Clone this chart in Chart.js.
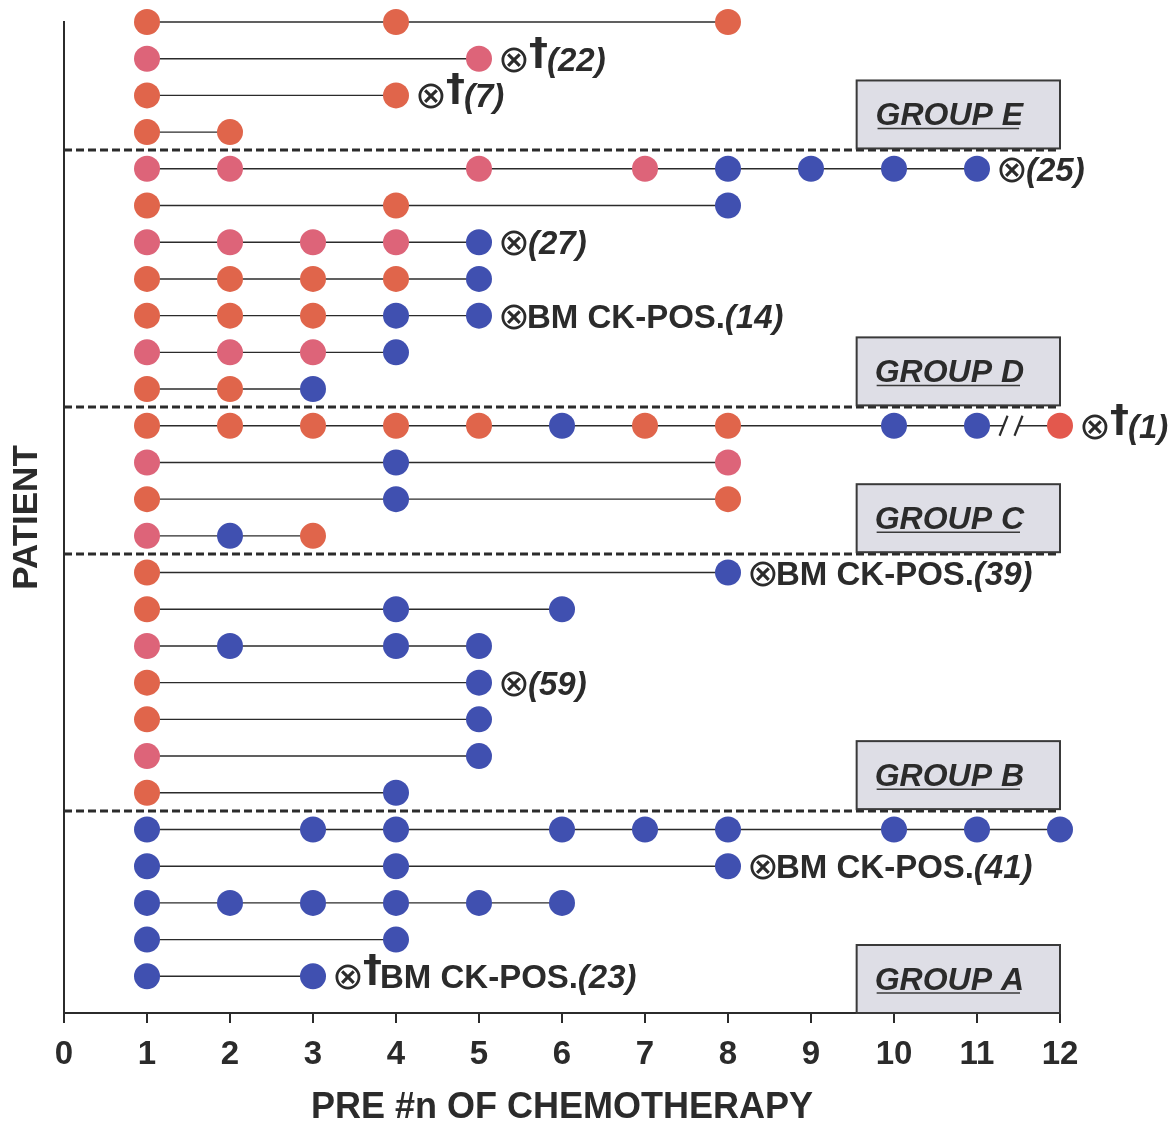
<!DOCTYPE html>
<html>
<head>
<meta charset="utf-8">
<script src="https://cdn.jsdelivr.net/npm/chart.js@4.4.1/dist/chart.umd.min.js"></script>
<style>
  html, body { margin: 0; padding: 0; background: #fff; }
</style>
</head>
<body>
<canvas id="chart" width="1171" height="1124"></canvas>
<script>
// patient rows, top (27) to bottom (1)
const patients = [27, 26, 25, 24, 23, 22, 21, 20, 19, 18, 17, 16, 15, 14, 13, 12, 11, 10, 9, 8, 7, 6, 5, 4, 3, 2, 1];

// sample taken before chemotherapy cycle #n
const visits = [
    [1, 4, 8],
    [1, 5],
    [1, 4],
    [1, 2],
    [1, 2, 5, 7, 8, 9, 10, 11],
    [1, 4, 8],
    [1, 2, 3, 4, 5],
    [1, 2, 3, 4, 5],
    [1, 2, 3, 4, 5],
    [1, 2, 3, 4],
    [1, 2, 3],
    [1, 2, 3, 4, 5, 6, 7, 8, 10, 11, 12],
    [1, 4, 8],
    [1, 4, 8],
    [1, 2, 3],
    [1, 8],
    [1, 4, 6],
    [1, 2, 4, 5],
    [1, 5],
    [1, 5],
    [1, 5],
    [1, 4],
    [1, 3, 4, 6, 7, 8, 10, 11, 12],
    [1, 4, 8],
    [1, 2, 3, 4, 5, 6],
    [1, 4],
    [1, 3]
];

// one letter per sample: o = orange, p = pink, b = blue, r = red
const status = [
    'ooo', 'pp', 'oo', 'oo', 'ppppbbbb', 'oob', 'ppppb', 'oooob', 'ooobb', 'pppb', 'oob',
    'oooooboobbr', 'pbp', 'obo', 'pbo',
    'ob', 'obb', 'pbbb', 'ob', 'ob', 'pb', 'ob',
    'bbbbbbbbb', 'bbb', 'bbbbbb', 'bb', 'bb'
];

const notePatients = [26, 25, 23, 21, 19, 16, 12, 9, 4, 1];
const noteTexts = ['⊗†(22)', '⊗†(7)', '⊗(25)', '⊗(27)', '⊗BM CK-POS.(14)', '⊗†(1)',
    '⊗BM CK-POS.(39)', '⊗(59)', '⊗BM CK-POS.(41)', '⊗†BM CK-POS.(23)'];

const groupNames = ['GROUP E', 'GROUP D', 'GROUP C', 'GROUP B', 'GROUP A'];
const groupFirst = [24, 17, 13, 6, 1];   // lowest patient row of each group

const breakPatient = 16;
const breakAt = [11.32, 11.5];

const xTicks = [0, 1, 2, 3, 4, 5, 6, 7, 8, 9, 10, 11, 12];

const INK = '#2b2b2b';
const colours = {o: '#e0654b', p: '#dd6479', b: '#4050b0', r: '#e3584d'};

const datasets = patients.map((p, i) => ({
    data: visits[i].map(v => ({x: v, y: p})),
    showLine: true,
    borderColor: INK,
    borderWidth: 1.4,
    pointRadius: 13,
    pointBorderWidth: 0,
    pointBackgroundColor: status[i].split('').map(c => colours[c]),
    clip: false
}));

// draws one token so that its ink starts at x and returns where the ink ends
function inkText(ctx, t, x, place) {
    const m = ctx.measureText(t);
    const px = x + m.actualBoundingBoxLeft;
    const base = place(m);
    ctx.fillText(t, px, base);
    return px + m.actualBoundingBoxRight;
}

function drawNote(ctx, x0, yc, text) {
    const tokens = text.match(/⊗|†|\([^)]*\)|[^⊗†(]+/g);
    let x = x0;
    ctx.textAlign = 'left';
    ctx.textBaseline = 'alphabetic';
    tokens.forEach(t => {
        if (t === '⊗') {
            ctx.font = '200 38px "DejaVu Sans"';
            x = inkText(ctx, t, x, m => yc + (m.actualBoundingBoxAscent - m.actualBoundingBoxDescent) / 2 + 1) + 2;
        } else if (t === '†') {
            ctx.font = 'bold 38px "DejaVu Sans"';
            x = inkText(ctx, t, x, m => yc - 22 + m.actualBoundingBoxAscent) + 1;
        } else if (t.charAt(0) === '(') {
            ctx.font = 'italic bold 33px "Liberation Sans"';
            x = inkText(ctx, t, x, () => yc + 12) + 2;
        } else {
            ctx.font = 'bold 33px "Liberation Sans"';
            x = inkText(ctx, t, x, () => yc + 12) + 3;
        }
    });
}

const decor = {
    id: 'decor',
    beforeDatasetsDraw(chart) {
        const {ctx, chartArea, scales: {y}} = chart;
        ctx.save();
        ctx.strokeStyle = INK;
        ctx.lineWidth = 3;
        ctx.setLineDash([8, 4]);
        groupFirst.forEach(first => {
            if (first <= 1) return;
            const py = Math.round(y.getPixelForValue(first - 0.5));
            ctx.beginPath();
            ctx.moveTo(chartArea.left, py);
            ctx.lineTo(chartArea.right, py);
            ctx.stroke();
        });
        ctx.restore();
    },
    afterDatasetsDraw(chart) {
        const {ctx, chartArea, scales: {x, y}} = chart;
        ctx.save();

        // axis break on the long row
        const by = y.getPixelForValue(breakPatient);
        const b0 = x.getPixelForValue(breakAt[0]);
        const b1 = x.getPixelForValue(breakAt[1]);
        ctx.fillStyle = '#fff';
        ctx.fillRect(b0, by - 3, b1 - b0, 6);
        ctx.strokeStyle = INK;
        ctx.lineWidth = 2.2;
        [b0, b1].forEach(bx => {
            ctx.beginPath();
            ctx.moveTo(bx - 4, by + 10);
            ctx.lineTo(bx + 4, by - 10);
            ctx.stroke();
        });

        // group boxes
        groupNames.forEach((name, i) => {
            const bottom = groupFirst[i] <= 1 ? chartArea.bottom : y.getPixelForValue(groupFirst[i] - 0.5) - 2;
            const top = bottom - 68;
            const left = x.getPixelForValue(9.55);
            const right = chartArea.right;
            ctx.fillStyle = '#dedee6';
            ctx.fillRect(left, top, right - left, bottom - top);
            ctx.strokeStyle = '#3a3a3a';
            ctx.lineWidth = 2;
            ctx.strokeRect(left, top, right - left, bottom - top);
            ctx.fillStyle = INK;
            ctx.font = 'italic bold 32px "Liberation Sans"';
            ctx.textAlign = 'center';
            ctx.textBaseline = 'alphabetic';
            const cx = (left + right) / 2 - 9;
            const base = (top + bottom) / 2 + 11;
            ctx.fillText(name, cx, base);
            const w = ctx.measureText(name).width;
            ctx.lineWidth = 1.5;
            ctx.beginPath();
            ctx.moveTo(cx - w / 2 + 2, base + 3);
            ctx.lineTo(cx + w / 2 - 4, base + 3);
            ctx.stroke();
        });

        // notes at the end of rows
        ctx.fillStyle = INK;
        notePatients.forEach((p, i) => {
            const row = visits[patients.indexOf(p)];
            const last = row[row.length - 1];
            drawNote(ctx, x.getPixelForValue(last) + 22, y.getPixelForValue(p), noteTexts[i]);
        });
        ctx.restore();
    }
};

new Chart(document.getElementById('chart'), {
    type: 'scatter',
    data: {datasets},
    options: {
        responsive: false,
        animation: false,
        layout: {padding: {top: 22, right: 111, bottom: 0, left: 0}},
        plugins: {legend: {display: false}, tooltip: {enabled: false}},
        scales: {
            x: {
                type: 'linear',
                min: 0,
                max: 12,
                afterBuildTicks: s => { s.ticks = xTicks.map(v => ({value: v})); },
                afterFit: s => { s.height = 111; },
                grid: {display: true, drawOnChartArea: false, drawTicks: true, tickLength: 10, color: INK, lineWidth: 2},
                border: {display: true, color: INK, width: 2},
                ticks: {color: INK, font: {family: 'Liberation Sans', size: 33, weight: 'bold'}, padding: 12, maxRotation: 0},
                title: {display: true, text: 'PRE #n OF CHEMOTHERAPY', color: INK,
                    font: {family: 'Liberation Sans', size: 36, weight: 'bold', lineHeight: 1}, padding: {top: 0, bottom: -2}}
            },
            y: {
                type: 'linear',
                min: 0,
                max: 27,
                afterFit: s => { s.width = 64; },
                grid: {display: false},
                border: {display: true, color: INK, width: 2},
                ticks: {display: false},
                title: {display: true, text: 'PATIENT', color: INK,
                    font: {family: 'Liberation Sans', size: 35, weight: 'bold', lineHeight: 1}, padding: {top: 10, bottom: 0}}
            }
        }
    },
    plugins: [decor]
});
</script>
</body>
</html>
